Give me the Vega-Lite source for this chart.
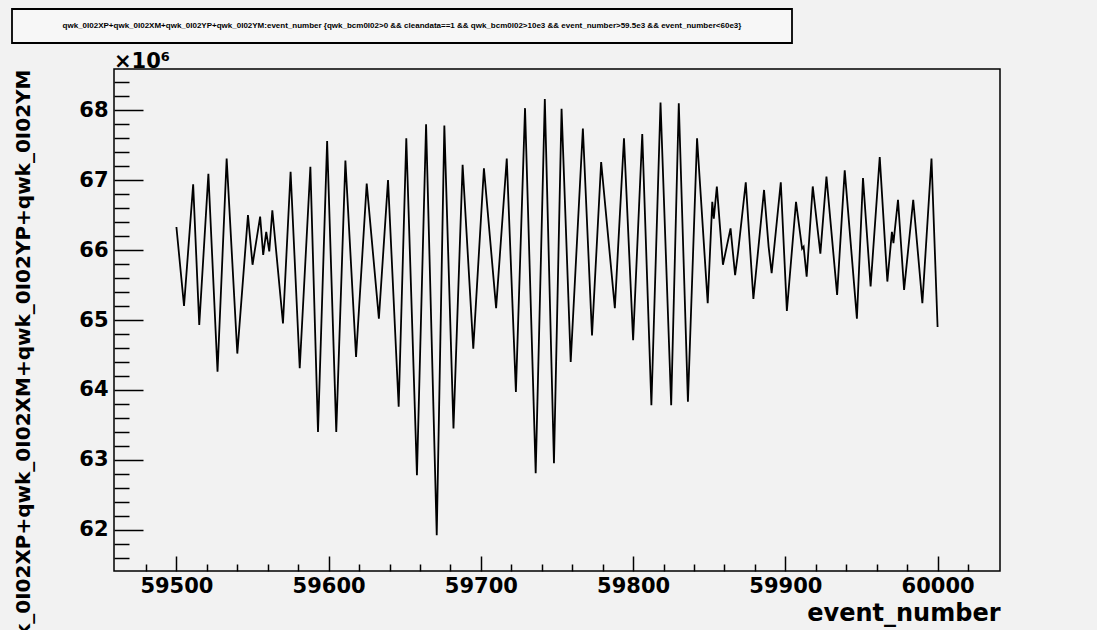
{
  "$schema": "https://vega.github.io/schema/vega-lite/v6.json",
  "background": "#f2f2f2",
  "padding": {"left": 11, "top": 8, "right": 97, "bottom": 0},
  "bounds": "full",
  "center": false,
  "spacing": 6,
  "config": {"view": {"stroke": null}},
  "vconcat": [
    {
      "width": 780,
      "height": 34,
      "data": {"values": [{"t": "qwk_0I02XP+qwk_0I02XM+qwk_0I02YP+qwk_0I02YM:event_number {qwk_bcm0l02>0 && cleandata==1 && qwk_bcm0l02>10e3 && event_number>59.5e3 && event_number<60e3}"}]},
      "layer": [
        {
          "mark": {"type": "rect", "fill": "#f7f7f7", "stroke": "black", "strokeWidth": 1.8, "clip": false},
          "encoding": {
            "x": {"datum": 0, "type": "quantitative", "scale": {"domain": [0, 1], "range": [-102, 678]}, "axis": null},
            "x2": {"datum": 1},
            "y": {"datum": 0, "type": "quantitative", "scale": {"domain": [0, 1]}, "axis": null},
            "y2": {"datum": 1}
          }
        },
        {
          "mark": {"type": "text", "font": "Liberation Sans", "fontWeight": "bold", "fontSize": 8, "color": "black", "clip": false},
          "encoding": {
            "x": {"datum": 0.5, "type": "quantitative"},
            "y": {"datum": 0.5, "type": "quantitative"},
            "text": {"field": "t", "type": "nominal"}
          }
        }
      ]
    },
    {
      "width": 886,
      "height": 502,
      "view": {"stroke": "black", "strokeWidth": 1.5},
      "title": {"text": "×10⁶", "anchor": "start", "frame": "group", "font": "DejaVu Sans", "fontSize": 21, "fontWeight": "bold", "color": "black", "offset": -3},
      "data": {"values": [
        {"event_number": 59500, "value": 66330000},
        {"event_number": 59505, "value": 65200000},
        {"event_number": 59511, "value": 66940000},
        {"event_number": 59515, "value": 64930000},
        {"event_number": 59521, "value": 67090000},
        {"event_number": 59527, "value": 64260000},
        {"event_number": 59533, "value": 67310000},
        {"event_number": 59540, "value": 64520000},
        {"event_number": 59547, "value": 66500000},
        {"event_number": 59550, "value": 65790000},
        {"event_number": 59555, "value": 66480000},
        {"event_number": 59557, "value": 65930000},
        {"event_number": 59559, "value": 66260000},
        {"event_number": 59561, "value": 65980000},
        {"event_number": 59563, "value": 66570000},
        {"event_number": 59570, "value": 64950000},
        {"event_number": 59575, "value": 67120000},
        {"event_number": 59581, "value": 64310000},
        {"event_number": 59588, "value": 67190000},
        {"event_number": 59593, "value": 63400000},
        {"event_number": 59599, "value": 67560000},
        {"event_number": 59605, "value": 63400000},
        {"event_number": 59611, "value": 67280000},
        {"event_number": 59618, "value": 64470000},
        {"event_number": 59625, "value": 66950000},
        {"event_number": 59633, "value": 65020000},
        {"event_number": 59639, "value": 67000000},
        {"event_number": 59646, "value": 63760000},
        {"event_number": 59651, "value": 67600000},
        {"event_number": 59658, "value": 62780000},
        {"event_number": 59664, "value": 67800000},
        {"event_number": 59671, "value": 61920000},
        {"event_number": 59676, "value": 67780000},
        {"event_number": 59682, "value": 63450000},
        {"event_number": 59688, "value": 67220000},
        {"event_number": 59695, "value": 64590000},
        {"event_number": 59702, "value": 67170000},
        {"event_number": 59710, "value": 65170000},
        {"event_number": 59717, "value": 67310000},
        {"event_number": 59723, "value": 63970000},
        {"event_number": 59729, "value": 68030000},
        {"event_number": 59736, "value": 62810000},
        {"event_number": 59742, "value": 68160000},
        {"event_number": 59748, "value": 62950000},
        {"event_number": 59753, "value": 68020000},
        {"event_number": 59759, "value": 64400000},
        {"event_number": 59767, "value": 67740000},
        {"event_number": 59773, "value": 64780000},
        {"event_number": 59779, "value": 67260000},
        {"event_number": 59788, "value": 65170000},
        {"event_number": 59794, "value": 67600000},
        {"event_number": 59800, "value": 64710000},
        {"event_number": 59806, "value": 67660000},
        {"event_number": 59812, "value": 63780000},
        {"event_number": 59818, "value": 68110000},
        {"event_number": 59825, "value": 63780000},
        {"event_number": 59830, "value": 68100000},
        {"event_number": 59836, "value": 63830000},
        {"event_number": 59842, "value": 67600000},
        {"event_number": 59849, "value": 65240000},
        {"event_number": 59852, "value": 66690000},
        {"event_number": 59853, "value": 66450000},
        {"event_number": 59855, "value": 66910000},
        {"event_number": 59859, "value": 65790000},
        {"event_number": 59864, "value": 66310000},
        {"event_number": 59867, "value": 65640000},
        {"event_number": 59869, "value": 65980000},
        {"event_number": 59874, "value": 66970000},
        {"event_number": 59879, "value": 65300000},
        {"event_number": 59886, "value": 66860000},
        {"event_number": 59889, "value": 66050000},
        {"event_number": 59891, "value": 65670000},
        {"event_number": 59897, "value": 66970000},
        {"event_number": 59901, "value": 65130000},
        {"event_number": 59907, "value": 66690000},
        {"event_number": 59911, "value": 66020000},
        {"event_number": 59912, "value": 66050000},
        {"event_number": 59914, "value": 65620000},
        {"event_number": 59918, "value": 66910000},
        {"event_number": 59923, "value": 65950000},
        {"event_number": 59927, "value": 67050000},
        {"event_number": 59934, "value": 65360000},
        {"event_number": 59939, "value": 67140000},
        {"event_number": 59947, "value": 65020000},
        {"event_number": 59951, "value": 67030000},
        {"event_number": 59956, "value": 65480000},
        {"event_number": 59962, "value": 67330000},
        {"event_number": 59967, "value": 65550000},
        {"event_number": 59970, "value": 66260000},
        {"event_number": 59971, "value": 66100000},
        {"event_number": 59974, "value": 66720000},
        {"event_number": 59978, "value": 65430000},
        {"event_number": 59984, "value": 66720000},
        {"event_number": 59990, "value": 65240000},
        {"event_number": 59996, "value": 67310000},
        {"event_number": 60000, "value": 64900000}
      ]},
      "mark": {"type": "line", "color": "black", "strokeWidth": 1.8, "clip": true},
      "encoding": {
        "x": {
          "field": "event_number", "type": "quantitative",
          "scale": {"domain": [59459, 60041], "nice": false, "zero": false},
          "axis": {
            "title": "event_number",
            "titleAnchor": "end",
            "titleFont": "DejaVu Sans", "titleFontSize": 24, "titleFontWeight": "bold", "titleColor": "black",
            "titlePadding": -3,
            "values": [59480,59500,59520,59540,59560,59580,59600,59620,59640,59660,59680,59700,59720,59740,59760,59780,59800,59820,59840,59860,59880,59900,59920,59940,59960,59980,60000,60020],
            "format": "d",
            "labelExpr": "datum.value % 100 === 0 ? datum.label : ''",
            "labelFont": "DejaVu Sans", "labelFontSize": 21, "labelFontWeight": "bold", "labelColor": "black",
            "labelPadding": 19,
            "labelOverlap": false, "labelFlush": false,
            "tickColor": "black", "tickWidth": 1.5,
            "tickSize": {"condition": {"test": "datum.value % 100 === 0", "value": -15}, "value": -7},
            "domain": false, "grid": false
          }
        },
        "y": {
          "field": "value", "type": "quantitative",
          "scale": {"domain": [61410000, 68590000], "nice": false, "zero": false},
          "axis": {
            "title": "qwk_0I02XP+qwk_0I02XM+qwk_0I02YP+qwk_0I02YM",
            "titleAnchor": "end",
            "titleFont": "DejaVu Sans", "titleFontSize": 20, "titleFontWeight": "bold", "titleColor": "black",
            "titlePadding": 45,
            "values": [61600000,61800000,62000000,62200000,62400000,62600000,62800000,63000000,63200000,63400000,63600000,63800000,64000000,64200000,64400000,64600000,64800000,65000000,65200000,65400000,65600000,65800000,66000000,66200000,66400000,66600000,66800000,67000000,67200000,67400000,67600000,67800000,68000000,68200000,68400000],
            "labelExpr": "datum.value % 1000000 === 0 ? format(datum.value / 1000000, 'd') : ''",
            "labelFont": "DejaVu Sans", "labelFontSize": 21, "labelFontWeight": "bold", "labelColor": "black",
            "labelPadding": 35,
            "labelOverlap": false, "labelFlush": false,
            "tickColor": "black", "tickWidth": 1.5,
            "tickSize": {"condition": {"test": "datum.value % 1000000 === 0", "value": -29}, "value": -15},
            "domain": false, "grid": false
          }
        }
      }
    }
  ]
}
